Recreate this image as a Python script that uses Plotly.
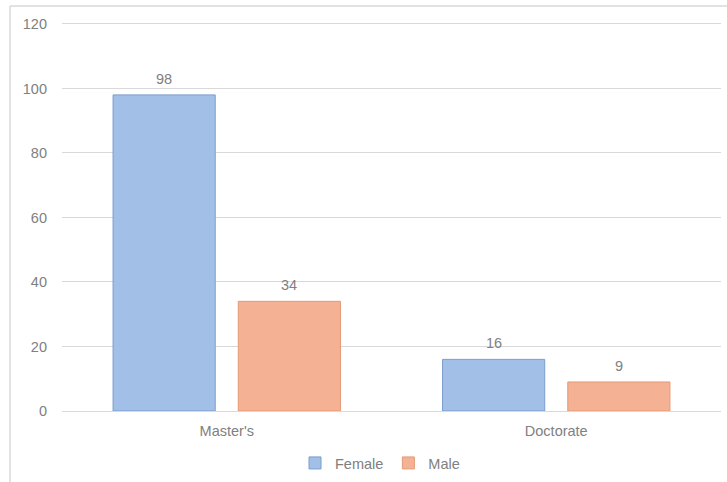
import plotly.graph_objects as go

categories = ["Master's", "Doctorate"]
female = [98, 16]
male = [34, 9]
y_ticks = [0, 20, 40, 60, 80, 100, 120]

FONT = "Liberation Sans"
TXT = "#808080"
FS = 14.5

W, H = 727, 482
L, R, T, B = 62, 6, 22, 71
plot_w = W - L - R
plot_h = H - T - B
BARGAP, GROUPGAP = 0.24, 0.184
slot = plot_w / len(categories) * (1 - BARGAP) / 2

fig = go.Figure()
fig.add_trace(go.Bar(
    name="Female", x=categories, y=female,
    marker=dict(color="#A2C0E7", line=dict(color="#7B9DCC", width=1)),
))
fig.add_trace(go.Bar(
    name="Male", x=categories, y=male,
    marker=dict(color="#F5B194", line=dict(color="#E49A76", width=1)),
))

annotations = []
for series, shift in ((female, -slot / 2), (male, slot / 2)):
    for cat, val in zip(categories, series):
        annotations.append(dict(
            x=cat, y=val, xref="x", yref="y", text=str(val), showarrow=False,
            xshift=shift, yshift=16, yanchor="middle",
            font=dict(size=FS, color=TXT, family=FONT),
        ))

bx = -(L - 10) / plot_w
by = 1 + (T - 6) / plot_h
fig.update_layout(
    width=W, height=H,
    margin=dict(l=L, r=R, t=T, b=B, autoexpand=False),
    paper_bgcolor="white", plot_bgcolor="white",
    font=dict(family=FONT, size=FS, color=TXT),
    barmode="group", bargap=BARGAP, bargroupgap=GROUPGAP,
    showlegend=True,
    legend=dict(orientation="h", x=(380 - L) / plot_w, xanchor="center",
                yref="container", y=1 - 463 / H, yanchor="middle",
                font=dict(size=FS, color=TXT), itemwidth=30, traceorder="normal"),
    xaxis=dict(showgrid=False, showline=False, ticks="", ticklabelstandoff=9,
               automargin=False, tickfont=dict(size=FS, color=TXT)),
    yaxis=dict(range=[0, 120.6], tickvals=y_ticks, showgrid=True, gridcolor="#D9D9D9",
               gridwidth=1, zeroline=True, zerolinecolor="#D9D9D9", zerolinewidth=1,
               showline=False, ticks="", ticklabelstandoff=14, automargin=False,
               tickfont=dict(size=FS, color=TXT)),
    annotations=annotations,
    shapes=[
        dict(type="line", xref="paper", yref="paper", x0=bx, x1=1.02,
             y0=by, y1=by, line=dict(color="#D9D9D9", width=1.5)),
        dict(type="line", xref="paper", yref="paper", x0=bx, x1=bx,
             y0=by, y1=-0.25, line=dict(color="#D9D9D9", width=1.5)),
    ],
)

fig.write_html("out.html", config={"displayModeBar": False},
               post_script="document.body.style.margin='0';")
